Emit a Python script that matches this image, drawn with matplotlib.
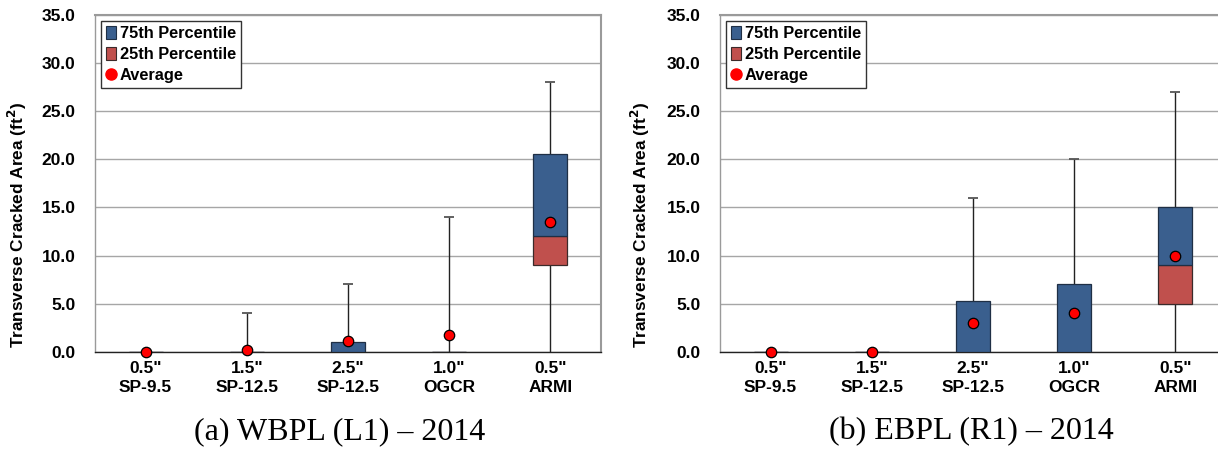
import matplotlib
matplotlib.use("Agg")
import matplotlib.pyplot as plt
from matplotlib.lines import Line2D
from matplotlib.patches import Patch
import numpy as np

plt.rcParams['font.family'] = ['Liberation Sans', 'DejaVu Sans']

categories = ['0.5"\nSP-9.5', '1.5"\nSP-12.5', '2.5"\nSP-12.5', '1.0"\nOGCR', '0.5"\nARMI']

# Left panel: WBPL (L1) - 2014
left_min = [0, 0, 0, 0, 0]
left_q1 = [0, 0, 0, 0, 9.0]
left_med = [0, 0, 0, 0, 12.0]
left_q3 = [0, 0, 1.0, 0, 20.5]
left_max = [0, 4.0, 7.0, 14.0, 28.0]
left_avg = [0.0, 0.2, 1.1, 1.7, 13.5]

# Right panel: EBPL (R1) - 2014
right_min = [0, 0, 0, 0, 0]
right_q1 = [0, 0, 0, 0, 5.0]
right_med = [0, 0, 0, 0, 9.0]
right_q3 = [0, 0, 5.3, 7.0, 15.0]
right_max = [0, 0, 16.0, 20.0, 27.0]
right_avg = [0.0, 0.0, 3.0, 4.0, 10.0]

captions = ['(a) WBPL (L1) – 2014', '(b) EBPL (R1) – 2014']
yticks = [0, 5, 10, 15, 20, 25, 30, 35]

BLUE = '#3A5F8E'
RED = '#C0504D'

fig = plt.figure(figsize=(12.18, 4.5), dpi=100)
W, H = 1218, 450
ax_w = (600.7 - 95) / W
ax_b = 1 - 351.7 / H
ax_h = (351.7 - 15) / H
axL = fig.add_axes([95 / W, ax_b, ax_w, ax_h])
axR = fig.add_axes([720 / W, ax_b, ax_w, ax_h])


def draw(ax, mins, q1, med, q3, maxs, avg, caption, cx, ylab_x):
    x = np.arange(len(categories))
    ax.set_axisbelow(True)
    ax.yaxis.grid(True, color='#A6A6A6', linewidth=1.0)
    ax.vlines(x, mins, maxs, color='#222222', linewidth=1.0, zorder=2)
    nz = [i for i in range(len(x)) if maxs[i] > 0]
    ax.hlines([maxs[i] for i in nz], [x[i] - 0.05 for i in nz], [x[i] + 0.05 for i in nz],
              color='#555555', linewidth=1.3, zorder=2)
    h_red = np.array(med) - np.array(q1)
    h_blue = np.array(q3) - np.array(med)
    ax.bar(x, h_red, bottom=q1, width=0.335, color=RED, edgecolor='#3a2a2a', linewidth=0.9, zorder=3)
    ax.bar(x, h_blue, bottom=med, width=0.335, color=BLUE, edgecolor='#1f2f45', linewidth=0.9, zorder=3)
    ax.plot(x, avg, linestyle='none', marker='o', markersize=7.5, markerfacecolor='#FF0000',
            markeredgecolor='#000000', markeredgewidth=0.9, zorder=5, clip_on=False)
    ax.set_xlim(-0.5, len(x) - 0.5)
    ax.set_ylim(0, 35)
    ax.set_yticks(yticks)
    ax.set_yticklabels([f'{v:.1f}' for v in yticks], fontsize=12.5, fontweight='bold')
    ax.set_xticks(x)
    ax.set_xticklabels(categories, fontsize=12.5, fontweight='bold', linespacing=1.3)
    ax.tick_params(axis='x', length=0, pad=7)
    ax.tick_params(axis='y', length=0, pad=14)
    for s in ['top', 'right', 'left']:
        ax.spines[s].set_color('#9A9A9A')
        ax.spines[s].set_linewidth(1.5)
    ax.spines['left'].set_linewidth(1.0)
    ax.spines['bottom'].set_color('#222222')
    ax.spines['bottom'].set_linewidth(1.0)
    ax.set_ylabel('Transverse Cracked Area (ft$^\\mathbf{2}$)', fontsize=12.4, fontweight='bold')
    ax.yaxis.set_label_coords(ylab_x, 0.5, transform=fig.transFigure)
    handles = [Patch(facecolor=BLUE, edgecolor='#1f2f45', linewidth=0.8),
               Patch(facecolor=RED, edgecolor='#3a2a2a', linewidth=0.8),
               Line2D([], [], linestyle='none', marker='o', markersize=8,
                      markerfacecolor='#FF0000', markeredgecolor='#FF0000')]
    leg = ax.legend(handles, ['75th Percentile', '25th Percentile', 'Average'],
                    loc='upper left', bbox_to_anchor=(0.012, 0.982), fancybox=False,
                    framealpha=1, edgecolor='#333333', handlelength=0.6, handleheight=0.8,
                    handletextpad=0.25, borderpad=0.3, labelspacing=0.38,
                    prop={'weight': 'bold', 'size': 11.8}, borderaxespad=0)
    leg.get_frame().set_linewidth(1.0)
    fig.text(cx / W, 1 - 432 / H, caption, ha='center', va='center',
             fontsize=23, family='Liberation Serif')


draw(axL, left_min, left_q1, left_med, left_q3, left_max, left_avg, captions[0], 340, 29 / W)
draw(axR, right_min, right_q1, right_med, right_q3, right_max, right_avg, captions[1], 971, 652 / W)

fig.savefig('out.png', dpi=100)
